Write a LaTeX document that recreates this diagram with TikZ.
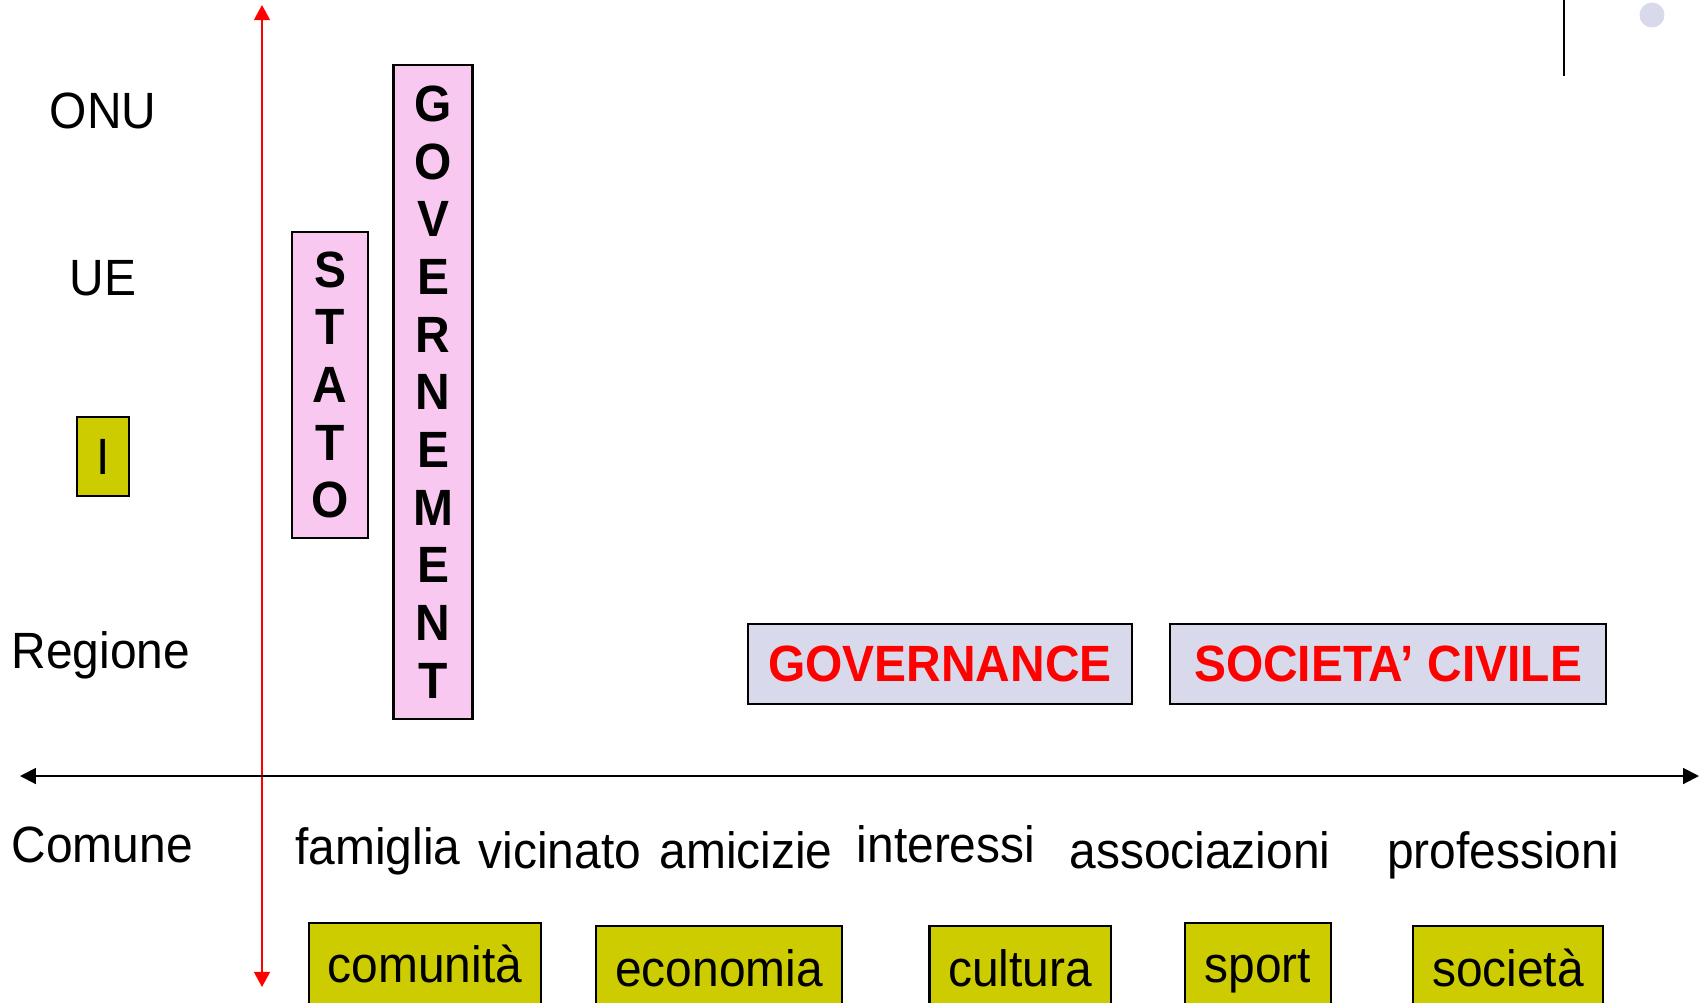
\documentclass[tikz,border=0pt]{standalone}
\usepackage{fontspec}
\setmainfont{Liberation Sans}[FakeStretch=0.94]
\usetikzlibrary{arrows.meta}
\definecolor{boxpink}{RGB}{249,200,240}
\definecolor{boxlilac}{RGB}{217,217,236}
\definecolor{boxolive}{RGB}{204,204,0}
\newcommand{\slidefont}{\fontsize{14.5}{16.4}\selectfont}

\begin{document}
\begin{tikzpicture}[x=0.01cm, y=-0.01cm,
        lbl/.style={font=\slidefont, inner sep=0pt, anchor=base},
        olivebox/.style={lbl, draw=black, fill=boxolive, line width=0.6pt},
        pinkbox/.style={draw=black, fill=boxpink, line width=0.6pt, inner sep=0pt, align=center, font=\slidefont\bfseries},
        lilacbox/.style={draw=black, fill=boxlilac, line width=0.6pt, inner sep=0pt, text=red, font=\slidefont\bfseries}]
        \useasboundingbox (0,0) rectangle (1705,1002);
        \clip (0,0) rectangle (1705,1002);
        % axes
        \coordinate (ytop) at (262,5);
        \coordinate (ybot) at (262,987);
        \coordinate (xleft) at (20,776);
        \coordinate (xright) at (1699,776);
        \draw[red, line width=0.65pt, arrows={Triangle[width=4.5pt,length=4.3pt]-Triangle[width=4.5pt,length=4.3pt]}] (ytop) -- (ybot);
        \draw[black, line width=0.55pt, arrows={Triangle[width=4.5pt,length=4.5pt]-Triangle[width=4.5pt,length=4.5pt]}] (xleft) -- (xright);
        % levels
        \node[lbl] (onu) at (103,128) {ONU};
        \node[lbl] (ue) at (103,295) {UE};
        \node[olivebox, minimum width=0.52cm, text height=0.57cm, text depth=0.22cm] (ita) at (103,474) {I};
        \node[lbl, anchor=base west] (regione) at (11,668) {Regione};
        \node[lbl, anchor=base west] (comune) at (11,862) {Comune};
        % columns
        \node[pinkbox, minimum width=0.76cm, minimum height=3.06cm] (stato) at (330,385) {S\\T\\A\\T\\O};
        \node[pinkbox, minimum width=0.79cm, minimum height=6.54cm] (govt) at (433,392) {G\\O\\V\\E\\R\\N\\E\\M\\E\\N\\T};
        \node[lilacbox, minimum width=3.84cm, minimum height=0.80cm] (gov) at (940,664) {GOVERNANCE};
        \node[lilacbox, minimum width=4.35cm, minimum height=0.80cm] (civ) at (1388,664) {SOCIETA’ CIVILE};
        % words
        \node[lbl] (famiglia) at (378,864) {famiglia};
        \node[lbl] (vicinato) at (560,868) {vicinato};
        \node[lbl] (amicizie) at (746,868) {amicizie};
        \node[lbl] (interessi) at (946,862) {interessi};
        \node[lbl] (associazioni) at (1200,868) {associazioni};
        \node[lbl] (professioni) at (1503,868) {professioni};
        % bottom boxes
        \node[olivebox, minimum width=2.32cm, text height=0.59cm, text depth=0.4cm] (comunita) at (425,982) {comunità};
        \node[olivebox, minimum width=2.46cm, text height=0.60cm, text depth=0.4cm] (economia) at (719,986) {economia};
        \node[olivebox, minimum width=1.81cm, text height=0.60cm, text depth=0.4cm] (cultura) at (1020,986) {cultura};
        \node[olivebox, minimum width=1.46cm, text height=0.59cm, text depth=0.4cm] (sport) at (1258,982) {sport};
        \node[olivebox, minimum width=1.90cm, text height=0.60cm, text depth=0.4cm] (societa) at (1508,986) {società};
        % corner mark
        \coordinate (marktop) at (1564,0);
        \coordinate (markbot) at (1564,76);
        \draw[line width=0.6pt] (marktop) -- (markbot);
        \fill[boxlilac] (1652,15) circle (0.125cm);
\end{tikzpicture}
\end{document}
